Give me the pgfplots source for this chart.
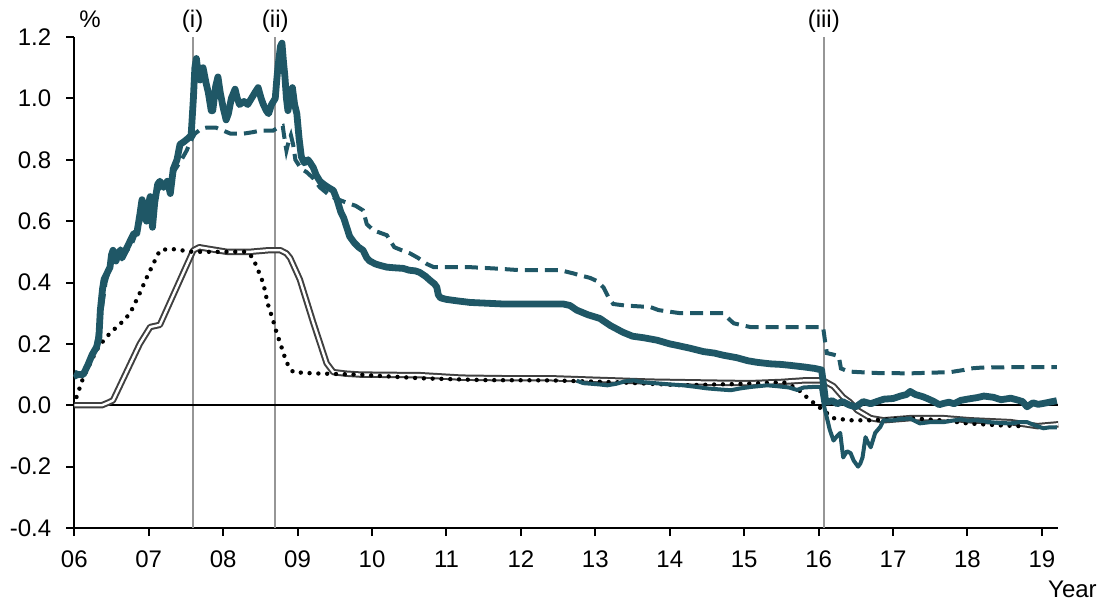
\documentclass[border=0pt]{standalone}
\usepackage{pgfplots}
\pgfplotsset{compat=1.18}
\usepackage{fontspec}
\setmainfont{Liberation Sans}
\definecolor{teal1}{RGB}{31,87,102}
\definecolor{gline}{RGB}{150,150,150}
\definecolor{dgray}{RGB}{64,64,64}
\newcommand\ff{\fontsize{12}{14}\selectfont}
\begin{document}
\begin{tikzpicture}
\begin{axis}[
  scale only axis,
  width=492pt, height=245.5pt,
  xmin=2006, xmax=2019.22,
  ymin=-0.4, ymax=1.2,
  clip=false,
  axis x line*=bottom, axis y line*=left,
  axis line style={black, line width=1pt},
  xtick={2006,2007,2008,2009,2010,2011,2012,2013,2014,2015,2016,2017,2018,2019},
  xticklabels={06,07,08,09,10,11,12,13,14,15,16,17,18,19},
  ytick={-0.4,-0.2,0,0.2,0.4,0.6,0.8,1.0,1.2},
  yticklabels={-0.4,-0.2,0.0,0.2,0.4,0.6,0.8,1.0,1.2},
  tick align=outside,
  major tick length=4pt,
  tick style={black, line width=1pt},
  ticklabel style={font=\ff},
  xticklabel style={anchor=north, yshift=-4pt},
  yticklabel style={anchor=east, xshift=-4pt},
]
% vertical reference lines
\addplot[gline, line width=1.1pt] coordinates {(2007.59,-0.4) (2007.59,1.2)};
\addplot[gline, line width=1.1pt] coordinates {(2008.70,-0.4) (2008.70,1.2)};
\addplot[gline, line width=1.1pt] coordinates {(2016.07,-0.4) (2016.07,1.2)};
% zero line
\addplot[black, line width=0.8pt] coordinates {(2006,0) (2019.22,0)};
% gray double line
\addplot[draw=dgray, line width=1pt, double=white, double distance=1.2pt, line join=round] coordinates {
(2006.00,0.00) (2006.37,0.00) (2006.45,0.008) (2006.52,0.016) (2006.88,0.20) (2007.02,0.255)
(2007.15,0.262) (2007.60,0.505) (2007.68,0.515) (2007.75,0.512) (2008.05,0.50) (2008.36,0.50)
(2008.60,0.505) (2008.77,0.505) (2008.85,0.495) (2008.90,0.48) (2009.03,0.41) (2009.21,0.27)
(2009.39,0.137) (2009.48,0.108) (2009.65,0.103) (2009.84,0.10) (2010.65,0.098) (2011.20,0.09)
(2011.80,0.088) (2012.40,0.088) (2013.00,0.083) (2013.74,0.077) (2014.50,0.074) (2015.08,0.072)
(2015.50,0.076) (2015.80,0.081) (2016.06,0.081) (2016.20,0.062) (2016.33,0.026) (2016.42,0.01)
(2016.52,-0.016) (2016.70,-0.042) (2016.87,-0.049) (2017.23,-0.042) (2017.68,-0.042) (2018.04,-0.049)
(2018.58,-0.055) (2018.94,-0.068) (2019.22,-0.062)};
% dotted black
\addplot[black, line width=2.2pt, line cap=round, dash pattern=on 0pt off 4.4pt] coordinates {
(2006.03,0.027) (2006.12,0.09) (2006.21,0.135) (2006.30,0.18) (2006.39,0.21) (2006.48,0.235)
(2006.57,0.255) (2006.66,0.275) (2006.75,0.30) (2006.87,0.36) (2006.98,0.42) (2007.08,0.47)
(2007.15,0.505) (2007.29,0.51) (2007.59,0.50) (2008.00,0.50) (2008.32,0.50) (2008.40,0.48)
(2008.47,0.44) (2008.54,0.397) (2008.60,0.33) (2008.67,0.277) (2008.72,0.235) (2008.77,0.20)
(2008.85,0.14) (2008.94,0.108) (2009.21,0.104) (2009.80,0.10) (2010.65,0.088) (2011.50,0.082)
(2012.40,0.081) (2013.30,0.075) (2014.18,0.065) (2015.00,0.07) (2015.53,0.075) (2015.71,0.055)
(2015.80,0.035) (2015.89,0.016) (2016.06,-0.016) (2016.20,-0.042) (2016.42,-0.049) (2016.70,-0.049)
(2017.23,-0.042) (2017.70,-0.05) (2018.00,-0.059) (2018.40,-0.065) (2018.70,-0.068)};
% thin teal
\addplot[teal1, line width=2pt, line join=round] coordinates {
(2012.75,0.08) (2012.84,0.072) (2012.95,0.07) (2013.05,0.068) (2013.16,0.065) (2013.28,0.07)
(2013.40,0.078) (2013.51,0.081) (2013.65,0.075) (2013.80,0.072) (2014.00,0.068) (2014.18,0.065)
(2014.35,0.06) (2014.50,0.055) (2014.65,0.052) (2014.82,0.049) (2014.95,0.055) (2015.10,0.06)
(2015.31,0.065) (2015.45,0.062) (2015.60,0.058) (2015.71,0.05) (2015.80,0.058) (2015.95,0.06)
(2016.03,0.06) (2016.07,0.00) (2016.11,-0.04) (2016.15,-0.08) (2016.20,-0.115) (2016.25,-0.10)
(2016.29,-0.09) (2016.33,-0.17) (2016.38,-0.15) (2016.43,-0.156) (2016.47,-0.18) (2016.53,-0.20)
(2016.56,-0.19) (2016.59,-0.17) (2016.63,-0.104) (2016.66,-0.12) (2016.70,-0.137) (2016.76,-0.09)
(2016.83,-0.07) (2016.87,-0.049) (2017.00,-0.049) (2017.10,-0.045) (2017.23,-0.043) (2017.36,-0.059)
(2017.50,-0.055) (2017.68,-0.055) (2017.80,-0.05) (2017.91,-0.046) (2018.00,-0.05) (2018.13,-0.049)
(2018.30,-0.055) (2018.45,-0.058) (2018.58,-0.059) (2018.70,-0.055) (2018.80,-0.055) (2018.90,-0.065)
(2019.02,-0.075) (2019.10,-0.072) (2019.20,-0.072)};
% dashed teal
\addplot[teal1, line width=2pt, dash pattern=on 6.5pt off 3.5pt] coordinates {
(2006.00,0.09) (2006.10,0.10) (2006.20,0.14) (2006.28,0.18) (2006.35,0.28) (2006.42,0.40)
(2006.50,0.47) (2006.56,0.50) (2006.62,0.51) (2006.70,0.50) (2006.78,0.53) (2006.86,0.58)
(2006.92,0.62) (2007.00,0.63) (2007.06,0.66) (2007.12,0.70) (2007.20,0.72) (2007.28,0.74)
(2007.36,0.77) (2007.44,0.80) (2007.51,0.83) (2007.56,0.86) (2007.62,0.885) (2007.70,0.90)
(2007.78,0.905) (2007.90,0.905) (2008.00,0.895) (2008.10,0.885) (2008.27,0.885) (2008.40,0.89)
(2008.50,0.895) (2008.67,0.895) (2008.74,0.905) (2008.80,0.91) (2008.83,0.86) (2008.85,0.83)
(2008.88,0.86) (2008.91,0.88) (2008.94,0.85) (2008.97,0.80) (2009.05,0.77) (2009.12,0.76)
(2009.21,0.74) (2009.30,0.71) (2009.40,0.69) (2009.50,0.675) (2009.66,0.66) (2009.78,0.65)
(2009.88,0.635) (2009.93,0.59) (2010.02,0.57) (2010.20,0.554) (2010.26,0.53) (2010.30,0.515)
(2010.40,0.505) (2010.51,0.495) (2010.62,0.48) (2010.74,0.46) (2010.83,0.45) (2011.00,0.45)
(2011.32,0.45) (2011.70,0.445) (2012.00,0.44) (2012.53,0.44) (2012.70,0.43) (2012.80,0.423)
(2012.93,0.415) (2013.02,0.405) (2013.11,0.384) (2013.18,0.35) (2013.24,0.33) (2013.40,0.325)
(2013.74,0.32) (2013.85,0.31) (2014.14,0.30) (2014.40,0.30) (2014.72,0.30) (2014.80,0.28)
(2014.86,0.267) (2015.08,0.255) (2015.50,0.255) (2016.06,0.255) (2016.08,0.22) (2016.11,0.17)
(2016.20,0.165) (2016.27,0.16) (2016.30,0.12) (2016.40,0.11) (2016.54,0.108) (2016.80,0.105)
(2017.23,0.104) (2017.50,0.106) (2017.77,0.108) (2017.95,0.115) (2018.04,0.12) (2018.20,0.123)
(2018.58,0.124) (2019.20,0.124)};
% thick teal
\addplot[teal1, line width=3.4pt, line join=round] coordinates {
(2006.00,0.105) (2006.05,0.10) (2006.12,0.10) (2006.18,0.13) (2006.24,0.165) (2006.30,0.19)
(2006.33,0.22) (2006.35,0.31) (2006.38,0.38) (2006.40,0.41) (2006.44,0.43) (2006.48,0.45)
(2006.50,0.49) (2006.52,0.505) (2006.56,0.47) (2006.60,0.50) (2006.64,0.48) (2006.68,0.50)
(2006.71,0.515) (2006.76,0.54) (2006.80,0.56) (2006.84,0.56) (2006.88,0.62) (2006.91,0.67)
(2006.94,0.63) (2006.97,0.60) (2007.00,0.66) (2007.02,0.68) (2007.05,0.58) (2007.08,0.66)
(2007.12,0.72) (2007.15,0.73) (2007.20,0.71) (2007.25,0.73) (2007.29,0.69) (2007.33,0.77)
(2007.38,0.80) (2007.42,0.85) (2007.48,0.86) (2007.53,0.87) (2007.57,0.88) (2007.60,1.00)
(2007.62,1.10) (2007.64,1.13) (2007.67,1.07) (2007.69,1.06) (2007.73,1.10) (2007.77,1.05)
(2007.80,1.02) (2007.84,0.96) (2007.86,0.96) (2007.90,1.04) (2007.93,1.07) (2007.96,1.02)
(2008.00,0.97) (2008.04,0.93) (2008.07,0.95) (2008.11,1.00) (2008.16,1.03) (2008.19,1.00)
(2008.22,0.98) (2008.28,0.99) (2008.33,0.98) (2008.38,1.00) (2008.43,1.02) (2008.47,1.035)
(2008.51,1.00) (2008.54,0.98) (2008.58,0.96) (2008.61,0.95) (2008.65,0.98) (2008.70,1.00)
(2008.72,1.06) (2008.74,1.11) (2008.77,1.17) (2008.79,1.18) (2008.81,1.12) (2008.83,1.07)
(2008.85,1.00) (2008.87,0.96) (2008.90,1.00) (2008.93,1.035) (2008.96,0.98) (2008.99,0.95)
(2009.02,0.87) (2009.05,0.81) (2009.09,0.79) (2009.14,0.80) (2009.17,0.79) (2009.21,0.775)
(2009.25,0.75) (2009.30,0.73) (2009.35,0.72) (2009.41,0.71) (2009.48,0.70) (2009.53,0.67)
(2009.58,0.63) (2009.62,0.61) (2009.66,0.58) (2009.70,0.55) (2009.76,0.53) (2009.82,0.515)
(2009.88,0.505) (2009.93,0.48) (2009.97,0.47) (2010.05,0.46) (2010.12,0.455) (2010.20,0.45)
(2010.30,0.448) (2010.42,0.446) (2010.50,0.44) (2010.58,0.438) (2010.64,0.433) (2010.72,0.42)
(2010.78,0.407) (2010.84,0.395) (2010.87,0.385) (2010.89,0.36) (2010.92,0.35) (2011.00,0.345)
(2011.15,0.34) (2011.32,0.335) (2011.50,0.333) (2011.76,0.33) (2012.00,0.33) (2012.30,0.33)
(2012.57,0.33) (2012.66,0.325) (2012.75,0.31) (2012.90,0.295) (2013.06,0.283) (2013.20,0.26)
(2013.37,0.238) (2013.50,0.225) (2013.65,0.22) (2013.83,0.212) (2014.00,0.20) (2014.10,0.195)
(2014.27,0.186) (2014.45,0.175) (2014.60,0.17) (2014.72,0.163) (2014.90,0.155) (2015.05,0.145)
(2015.17,0.14) (2015.35,0.135) (2015.50,0.133) (2015.62,0.13) (2015.80,0.125) (2015.95,0.12)
(2016.04,0.115) (2016.07,0.06) (2016.09,0.02) (2016.12,0.01) (2016.18,0.015) (2016.25,0.005)
(2016.32,0.012) (2016.42,0.000) (2016.50,-0.005) (2016.60,0.012) (2016.70,0.005) (2016.78,0.012)
(2016.88,0.02) (2017.00,0.022) (2017.10,0.03) (2017.18,0.035) (2017.23,0.045) (2017.30,0.035)
(2017.40,0.028) (2017.46,0.022) (2017.55,0.012) (2017.62,0.002) (2017.68,0.006) (2017.75,0.01)
(2017.82,0.005) (2017.91,0.016) (2018.00,0.02) (2018.13,0.025) (2018.22,0.03) (2018.35,0.026)
(2018.45,0.018) (2018.58,0.023) (2018.66,0.018) (2018.74,0.012) (2018.80,-0.005) (2018.88,0.008)
(2018.95,0.003) (2019.02,0.006) (2019.10,0.01) (2019.20,0.015)};
% labels
\node[font=\ff] at (axis cs:2006.21,1.257) {\%};
\node[font=\ff] at (axis cs:2007.59,1.252) {(i)};
\node[font=\ff] at (axis cs:2008.70,1.252) {(ii)};
\node[font=\ff] at (axis cs:2016.07,1.252) {(iii)};
\node[font=\ff] at (axis cs:2019.41,-0.599) {Year};
\coordinate (bbl) at (rel axis cs:-0.0755,-0.1487);
\coordinate (btr) at (rel axis cs:1.0495,1.0754);
\end{axis}
\path (bbl) rectangle (btr);
\end{tikzpicture}
\end{document}
